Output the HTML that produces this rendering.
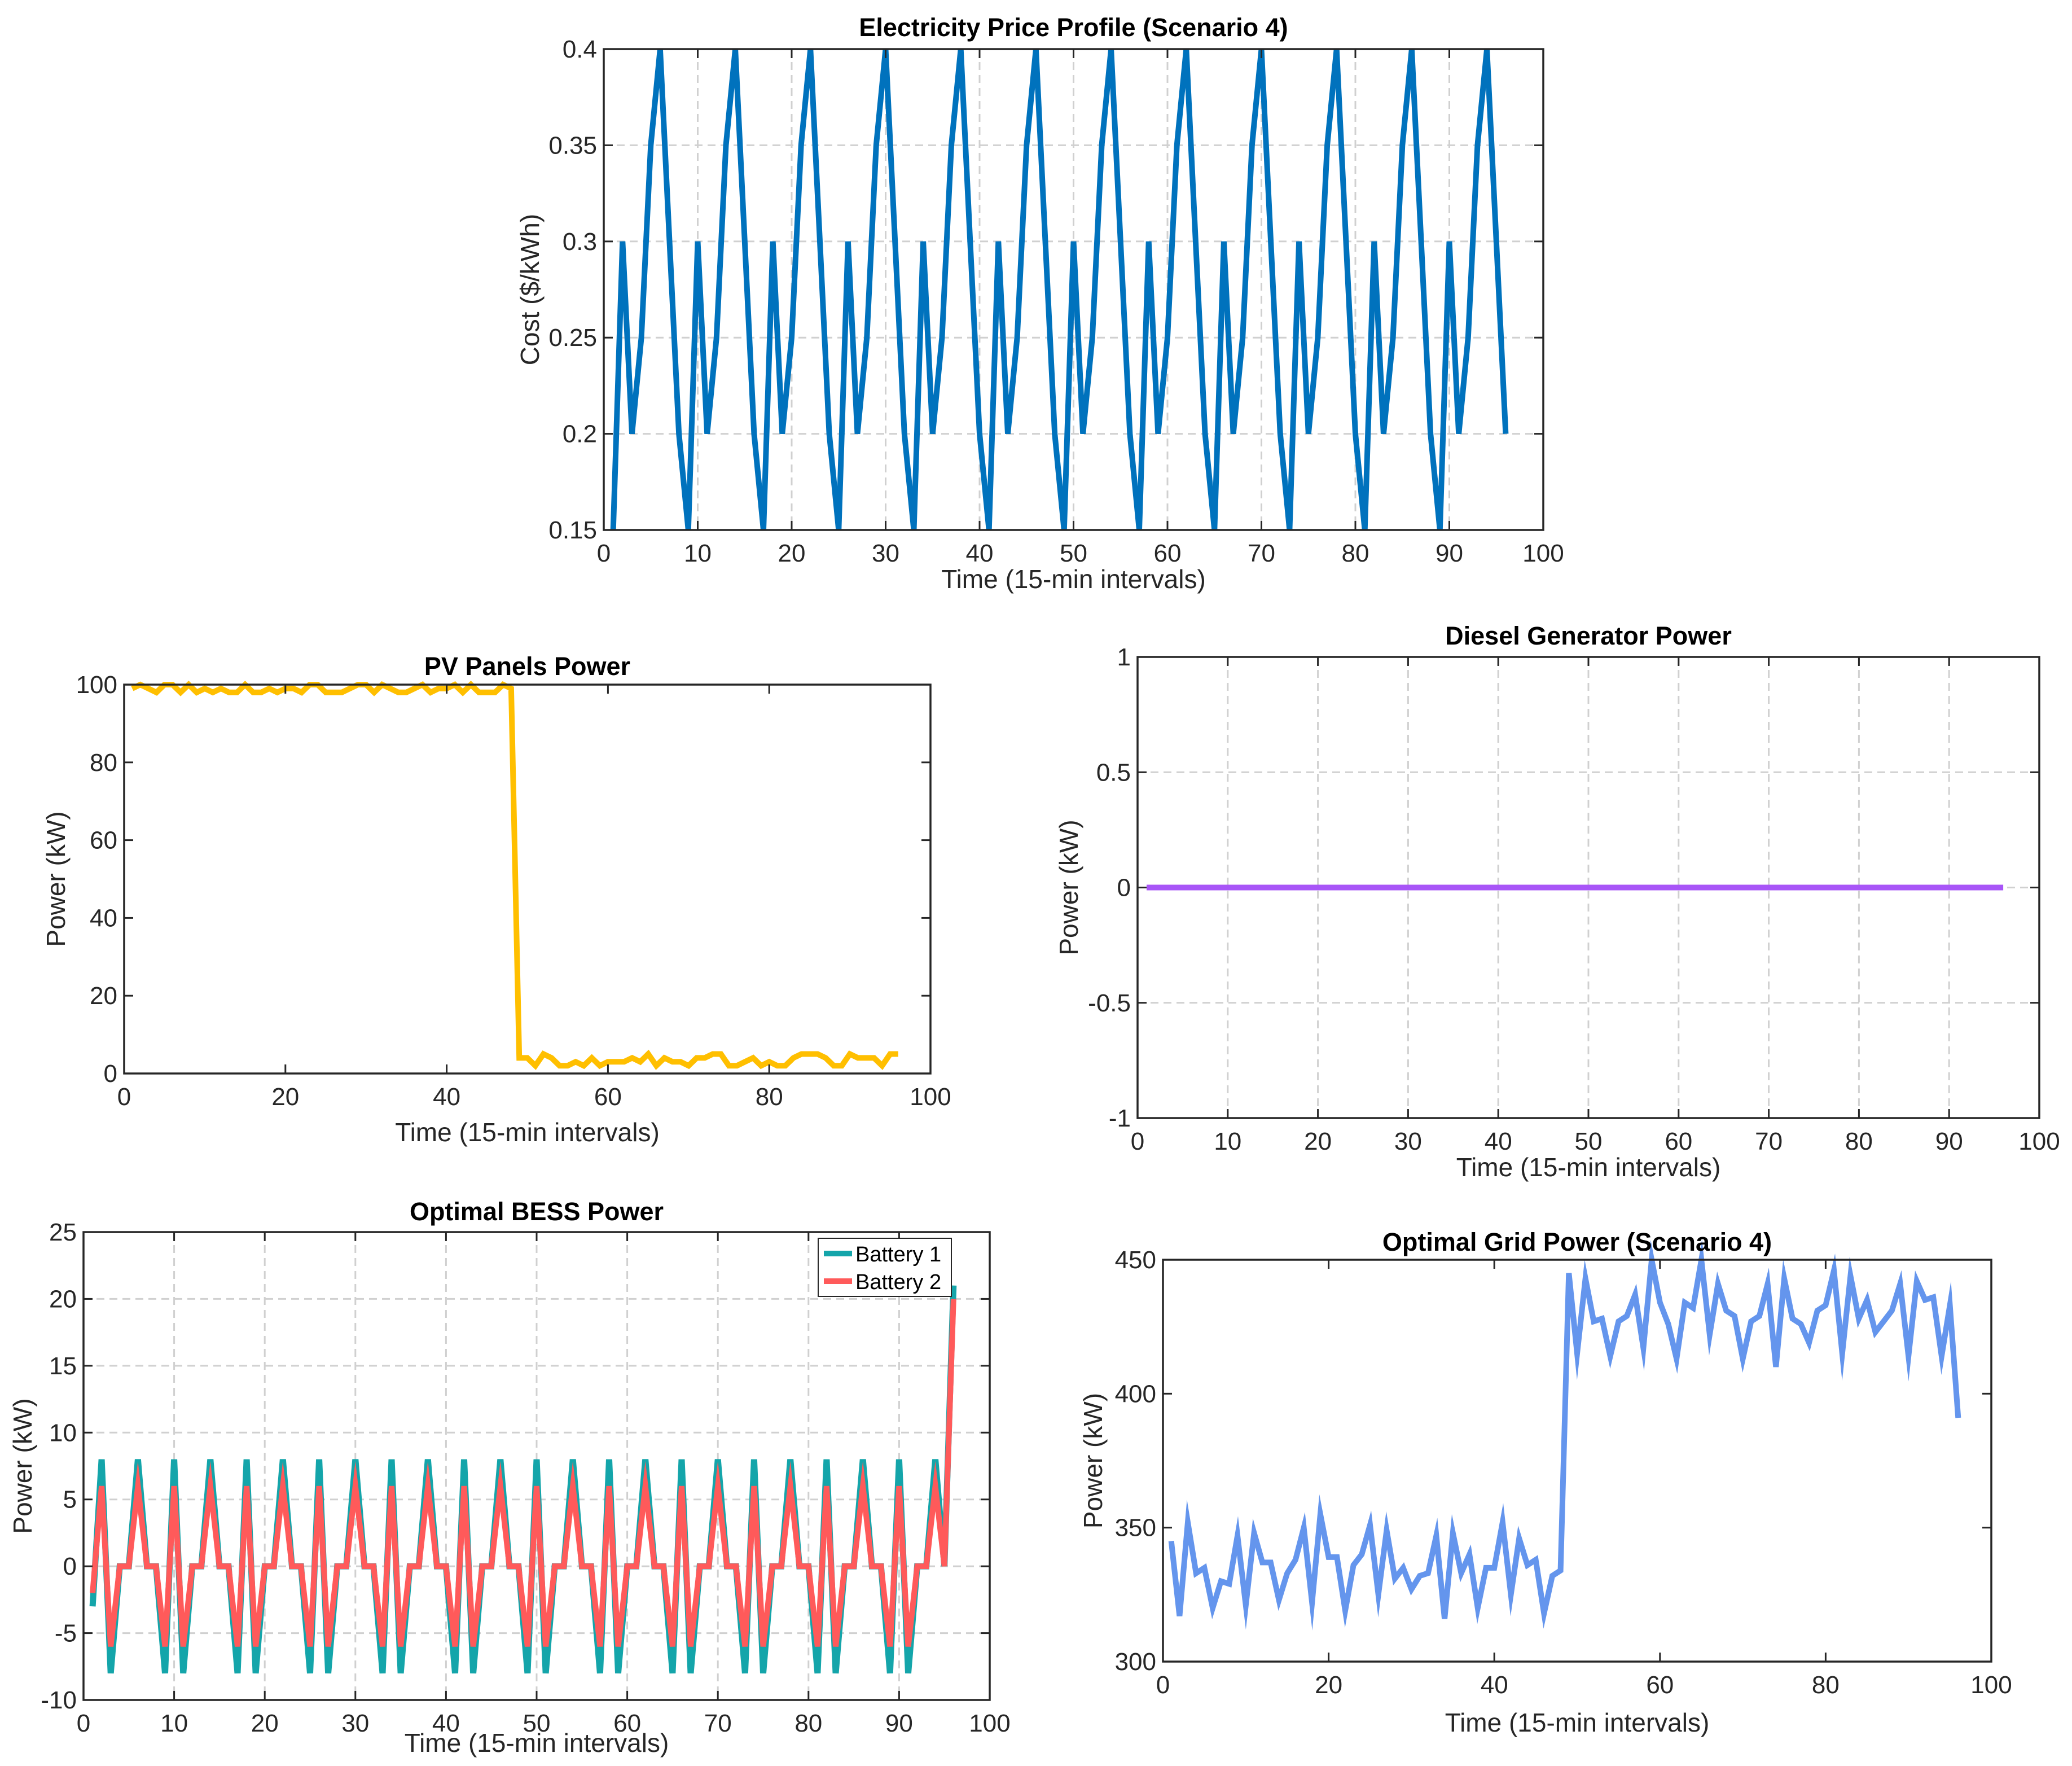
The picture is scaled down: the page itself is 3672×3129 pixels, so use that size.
<!DOCTYPE html>
<html><head><meta charset="utf-8">
<style>
html,body{margin:0;padding:0;background:#fff;}
svg{display:block;font-family:"Liberation Sans",Arial,sans-serif;}
</style></head>
<body>
<svg id="fig" width="3672" height="3129" viewBox="0 0 3672 3129" xmlns="http://www.w3.org/2000/svg"></svg>
<script>
const timeSteps = Array.from({length:96},(_,i)=>i+1);
const priceValues = [0.15,0.30,0.20,0.25,0.35,0.40,0.30,0.20,0.15,0.30,0.20,0.25,0.35,0.40,0.30,0.20,0.15,0.30,0.20,0.25,0.35,0.40,0.30,0.20,0.15,0.30,0.20,0.25,0.35,0.40,0.30,0.20,0.15,0.30,0.20,0.25,0.35,0.40,0.30,0.20,0.15,0.30,0.20,0.25,0.35,0.40,0.30,0.20,0.15,0.30,0.20,0.25,0.35,0.40,0.30,0.20,0.15,0.30,0.20,0.25,0.35,0.40,0.30,0.20,0.15,0.30,0.20,0.25,0.35,0.40,0.30,0.20,0.15,0.30,0.20,0.25,0.35,0.40,0.30,0.20,0.15,0.30,0.20,0.25,0.35,0.40,0.30,0.20,0.15,0.30,0.20,0.25,0.35,0.40,0.30,0.20];
const pvValues = [99,100,99,98,100,100,98,100,98,99,98,99,98,98,100,98,98,99,98,99,99,98,100,100,98,98,98,99,100,100,98,100,99,98,98,99,100,98,99,99,100,98,100,98,98,98,100,99,4,4,2,5,4,2,2,3,2,4,2,3,3,3,4,3,5,2,4,3,3,2,4,4,5,5,2,2,3,4,2,3,2,2,4,5,5,5,4,2,2,5,4,4,4,2,5,5];
const dieselValues = Array(96).fill(0);
const battery1Values = [-3,8,-8,0,0,8,0,0,-8,8,-8,0,0,8,0,0,-8,8,-8,0,0,8,0,0,-8,8,-8,0,0,8,0,0,-8,8,-8,0,0,8,0,0,-8,8,-8,0,0,8,0,0,-8,8,-8,0,0,8,0,0,-8,8,-8,0,0,8,0,0,-8,8,-8,0,0,8,0,0,-8,8,-8,0,0,8,0,0,-8,8,-8,0,0,8,0,0,-8,8,-8,0,0,8,0,21];
const battery2Values = [-2,6,-6,0,0,6,0,0,-6,6,-6,0,0,6,0,0,-6,6,-6,0,0,6,0,0,-6,6,-6,0,0,6,0,0,-6,6,-6,0,0,6,0,0,-6,6,-6,0,0,6,0,0,-6,6,-6,0,0,6,0,0,-6,6,-6,0,0,6,0,0,-6,6,-6,0,0,6,0,0,-6,6,-6,0,0,6,0,0,-6,6,-6,0,0,6,0,0,-6,6,-6,0,0,6,0,20];
const gridValues = [345,317,352,333,335,320,330,329,347,321,348,337,337,323,333,338,350,322,355,339,339,319,336,340,351,325,349,331,335,327,332,333,347,316,348,333,340,320,335,335,352,325,346,336,338,318,332,334,445,415,443,427,428,414,427,429,437,417,450,434,426,413,434,432,450,422,441,431,429,413,427,429,441,410,443,428,426,419,431,433,446,415,444,428,435,423,427,431,441,414,442,435,436,414,433,391];
const priceTicksY = [0.15,0.2,0.25,0.3,0.35,0.4];
const priceTickLabels = ["0.15","0.2","0.25","0.3","0.35","0.4"];
const tens = [0,10,20,30,40,50,60,70,80,90,100];
const twenties = [0,20,40,60,80,100];
const pvTicksY = [0,20,40,60,80,100];
const dieselTicksY = [-1,-0.5,0,0.5,1];
const dieselTickLabels = ["-1","-0.5","0","0.5","1"];
const bessTicksY = [-10,-5,0,5,10,15,20,25];
const gridTicksY = [300,350,400,450];

const NS="http://www.w3.org/2000/svg";
const svg=document.getElementById('fig');
function mk(tag,attrs,parent){const e=document.createElementNS(NS,tag);for(const k in attrs)e.setAttribute(k,attrs[k]);(parent||svg).appendChild(e);return e;}

function chart(o){
  const g=mk('g',{});
  
  
  const X=v=>o.x0+(v-o.xmin)/(o.xmax-o.xmin)*(o.x1-o.x0);
  const Y=v=>o.y1-(v-o.ymin)/(o.ymax-o.ymin)*(o.y1-o.y0);
  if(o.grid){
    o.xt.forEach(v=>{const l=mk('line',{x1:X(v),x2:X(v),y1:o.y0,y2:o.y1,stroke:'#d0d0d0','stroke-width':3,'stroke-dasharray':'14,9'},g);
      
      });
    o.yt.forEach(v=>{const l=mk('line',{x1:o.x0,x2:o.x1,y1:Y(v),y2:Y(v),stroke:'#d0d0d0','stroke-width':3,'stroke-dasharray':'14,9'},g);
      
      });
  }
  o.series.forEach(s=>{
    const pts=s.vals.map((v,i)=>X(timeSteps[i]).toFixed(1)+','+Y(v).toFixed(1)).join(' ');
    const p=mk('polyline',{points:pts,fill:'none',stroke:s.color,'stroke-width':s.w||10,'stroke-linejoin':'miter','stroke-miterlimit':10},g);
    
    
  });
  const box=mk('rect',{x:o.x0,y:o.y0,width:o.x1-o.x0,height:o.y1-o.y0,fill:'none',stroke:'#262626','stroke-width':3.5},g);
  
  
  const tl=16;
  o.xt.forEach((v,i)=>{
    mk('line',{x1:X(v),x2:X(v),y1:o.y1,y2:o.y1-tl,stroke:'#262626','stroke-width':3},g);
    mk('line',{x1:X(v),x2:X(v),y1:o.y0,y2:o.y0+tl,stroke:'#262626','stroke-width':3},g);
    const t=mk('text',{x:X(v),y:o.y1+56,'text-anchor':'middle','font-size':44,fill:'#262626'},g);
    t.textContent=String(v);
    
    
  });
  o.yt.forEach((v,i)=>{
    mk('line',{x1:o.x0,x2:o.x0+tl,y1:Y(v),y2:Y(v),stroke:'#262626','stroke-width':3},g);
    mk('line',{x1:o.x1,x2:o.x1-tl,y1:Y(v),y2:Y(v),stroke:'#262626','stroke-width':3},g);
    const t=mk('text',{x:o.x0-12,y:Y(v)+15,'text-anchor':'end','font-size':44,fill:'#262626'},g);
    t.textContent=o.ytl?o.ytl[i]:String(v);
    
    
  });
  const title=mk('text',{x:(o.x0+o.x1)/2,y:o.titleY,'text-anchor':'middle','font-size':45,'font-weight':'bold',fill:'#000'},g);
  title.textContent=o.title;
  
  
  const xl=mk('text',{x:(o.x0+o.x1)/2,y:o.xlabY,'text-anchor':'middle','font-size':46,fill:'#262626'},g);
  xl.textContent='Time (15-min intervals)';
  
  
  const yc=(o.y0+o.y1)/2;
  const yl=mk('text',{x:o.ylabX,y:yc,'text-anchor':'middle','font-size':46,fill:'#262626',transform:`rotate(-90 ${o.ylabX} ${yc})`},g);
  yl.textContent=o.ylab;
  
  
  return {g,X,Y};
}

chart({name:'price-chart',x0:1070,x1:2735,y0:87,y1:939,xmin:0,xmax:100,ymin:0.15,ymax:0.4,xt:tens,yt:priceTicksY,ytl:priceTickLabels,grid:true,
  title:'Electricity Price Profile (Scenario 4)',titleY:64,xlabY:1042,ylab:'Cost ($/kWh)',ylabX:955,
  series:[{name:'price-line',vals:priceValues,color:'#0072BD',w:10}]});

chart({name:'pv-chart',x0:220,x1:1649,y0:1213,y1:1902,xmin:0,xmax:100,ymin:0,ymax:100,xt:twenties,yt:pvTicksY,grid:false,
  title:'PV Panels Power',titleY:1196,xlabY:2022,ylab:'Power (kW)',ylabX:115,
  series:[{name:'pv-line',vals:pvValues,color:'#FFBF00',w:10}]});

chart({name:'diesel-chart',x0:2016,x1:3614,y0:1164,y1:1981,xmin:0,xmax:100,ymin:-1,ymax:1,xt:tens,yt:dieselTicksY,ytl:dieselTickLabels,grid:true,
  title:'Diesel Generator Power',titleY:1142,xlabY:2084,ylab:'Power (kW)',ylabX:1910,
  series:[{name:'diesel-line',vals:dieselValues,color:'#A855F7',w:10}]});

chart({name:'bess-chart',x0:148,x1:1754,y0:2183,y1:3012,xmin:0,xmax:100,ymin:-10,ymax:25,xt:tens,yt:bessTicksY,grid:true,
  title:'Optimal BESS Power',titleY:2162,xlabY:3104,ylab:'Power (kW)',ylabX:56,
  series:[{name:'battery-1-line',vals:battery1Values,color:'#14A5AA',w:11},{name:'battery-2-line',vals:battery2Values,color:'#FF5A5A',w:10}]});

chart({name:'grid-chart',x0:2061,x1:3529,y0:2232,y1:2944,xmin:0,xmax:100,ymin:300,ymax:450,xt:twenties,yt:gridTicksY,grid:false,
  title:'Optimal Grid Power (Scenario 4)',titleY:2216,xlabY:3068,ylab:'Power (kW)',ylabX:1953,
  series:[{name:'grid-line',vals:gridValues,color:'#6495ED',w:10}]});

const lg=mk('g',{});


mk('rect',{x:1450,y:2194,width:236,height:103,fill:'#fff',stroke:'#262626','stroke-width':2},lg);
mk('line',{x1:1460,x2:1510,y1:2221,y2:2221,stroke:'#14A5AA','stroke-width':10},lg);
mk('line',{x1:1460,x2:1510,y1:2270,y2:2270,stroke:'#FF5A5A','stroke-width':10},lg);
const l1=mk('text',{x:1516,y:2235,'font-size':38,fill:'#000'},lg);
l1.textContent='Battery 1';


const l2=mk('text',{x:1516,y:2284,'font-size':38,fill:'#000'},lg);
l2.textContent='Battery 2';


</script>
</body></html>
